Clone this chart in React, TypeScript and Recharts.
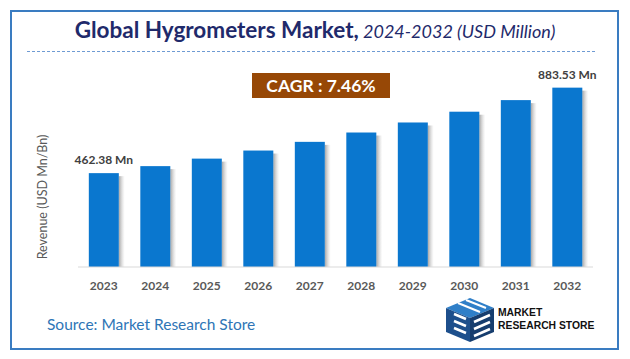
import React from 'react';
import { BarChart, Bar, XAxis, YAxis, LabelList } from 'recharts';

const years = ['2023', '2024', '2025', '2026', '2027', '2028', '2029', '2030', '2031', '2032'];
const revenue = [462.38, 496.9, 533.9, 573.7, 616.5, 662.5, 711.9, 765.0, 822.1, 883.53];
const endLabels = ['462.38 Mn', '', '', '', '', '', '', '', '', '883.53 Mn'];

const data = years.map((year, i) => ({ year, value: revenue[i], label: endLabels[i] }));

const FONT = 'Lato, "Open Sans", sans-serif';

const ShadowBar = (props: any) => {
  const { x, y, width, height, fill } = props;
  if (!height || height <= 0) return null;
  return (
    <g>
      <rect x={x + width} y={y + 3} width={6} height={height - 3} fill="url(#barShadow)" />
      <rect x={x} y={y} width={width} height={height} fill={fill} />
    </g>
  );
};

const EndLabel = (props: any) => {
  const { x, y, width, value } = props;
  if (!value) return null;
  return (
    <text x={x + width / 2} y={y - 9} textAnchor="middle" fontSize={12} fontWeight={700}
      fill="#404040" fontFamily={FONT}>
      {value}
    </text>
  );
};

const Logo = () => (
  <svg width={60} height={48} style={{ position: 'absolute', left: 440, top: 296 }}>
    <polygon points="6,12 30,2 54,12 30,22" fill="#2f7fc8" />
    <polygon points="6,12 30,22 30,46 6,36" fill="#1d4f8c" />
    <polygon points="30,22 54,12 54,36 30,46" fill="#163d6e" />
    <path d="M14,18 L26,23 M14,25 L26,30 M14,32 L26,37" stroke="#fff" strokeWidth={2.5} />
    <path d="M34,26 L50,19 M34,33 L50,26 M34,40 L50,33" stroke="#fff" strokeWidth={2.5} />
    <path d="M18,7 L40,16 M26,4 L46,12" stroke="#fff" strokeWidth={2} />
  </svg>
);

const logoText: React.CSSProperties = {
  position: 'absolute', left: 498, fontSize: 11.5, fontWeight: 900, color: '#111', lineHeight: '12px',
  fontFamily: '"Liberation Sans", sans-serif', transform: 'scaleX(0.9)', transformOrigin: 'left', whiteSpace: 'nowrap',
};

export default function App() {
  return (
    <div style={{ position: 'absolute', left: 0, top: 0, width: 630, height: 359, background: '#fff', fontFamily: FONT }}>
      <div style={{ position: 'absolute', left: 10, top: 10, width: 605, height: 336, border: '2px solid #3a7cc1' }} />
      <div style={{ position: 'absolute', left: 0, top: 16, width: 630, textAlign: 'center', color: '#1f2a6b', whiteSpace: 'nowrap' }}>
        <span style={{ fontSize: 22.5, fontWeight: 700 }}>Global Hygrometers Market,</span>
        <span style={{ fontSize: 18, fontStyle: 'italic' }}> 2024-2032 (USD Million)</span>
      </div>
      <div style={{ position: 'absolute', left: 27, top: 51, width: 568, borderTop: '1px dashed #6f9bd3' }} />
      <div style={{ position: 'absolute', left: 252, top: 73, width: 138, height: 25, background: '#974806',
        color: '#fff', fontWeight: 700, fontSize: 17.5, lineHeight: '25px', textAlign: 'center' }}>
        CAGR : 7.46%
      </div>
      <div style={{ position: 'absolute', left: 42, top: 197, transform: 'translate(-50%, -50%) rotate(-90deg)',
        fontSize: 12.5, color: '#595959', whiteSpace: 'nowrap' }}>
        Revenue (USD Mn/Bn)
      </div>
      <div style={{ position: 'absolute', left: 0, top: 0 }}>
        <BarChart width={630} height={359} data={data} margin={{ top: 64, right: 37, bottom: 62, left: 78 }}
          barCategoryGap="21%">
          <defs>
            <linearGradient id="barShadow" x1="0" y1="0" x2="1" y2="0">
              <stop offset="0%" stopColor="#7f7f7f" stopOpacity={0.7} />
              <stop offset="100%" stopColor="#bfbfbf" stopOpacity={0} />
            </linearGradient>
          </defs>
          <XAxis dataKey="year" height={30} axisLine={{ stroke: '#d9d9d9', strokeWidth: 1 }} tickLine={false}
            tick={{ fill: '#595959', fontSize: 12, fontWeight: 700, fontFamily: FONT }} tickMargin={8} />
          <YAxis hide domain={[0, 1000]} />
          <Bar dataKey="value" fill="#0a77cf" shape={<ShadowBar />} isAnimationActive={false}>
            <LabelList dataKey="label" content={<EndLabel />} />
          </Bar>
        </BarChart>
      </div>
      <div style={{ position: 'absolute', left: 47, top: 315, fontSize: 15.5, color: '#2e75b6' }}>
        Source: Market Research Store
      </div>
      <Logo />
      <div style={{ ...logoText, top: 306 }}>MARKET</div>
      <div style={{ ...logoText, top: 319 }}>RESEARCH STORE</div>
    </div>
  );
}
